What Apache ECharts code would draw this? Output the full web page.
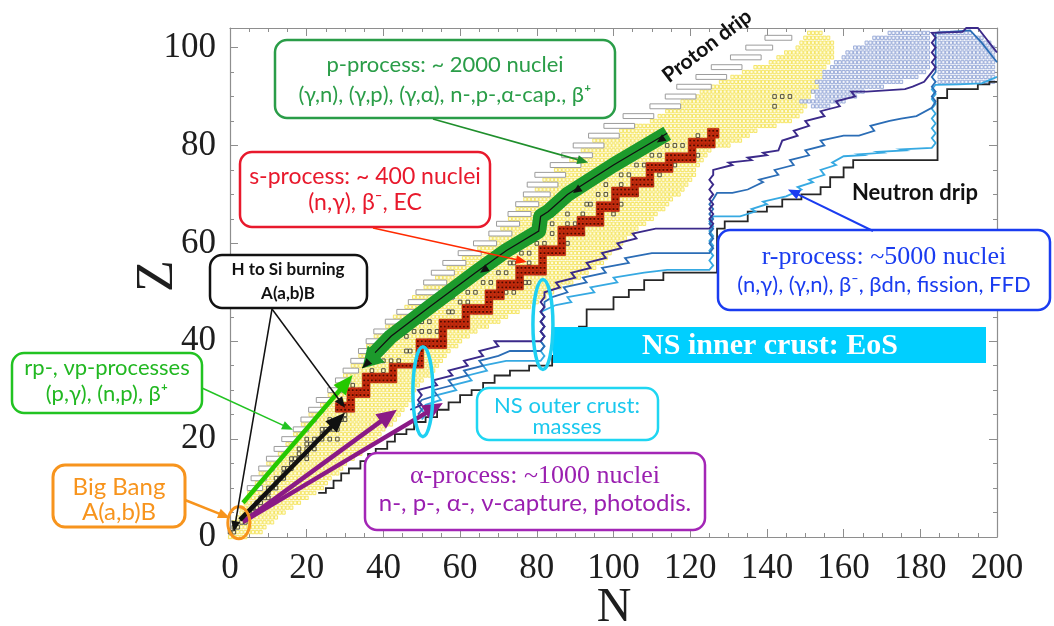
<!DOCTYPE html>
<html>
<head>
<meta charset="utf-8">
<title>Nucleosynthesis processes on the chart of nuclides</title>
<script src="https://cdn.jsdelivr.net/npm/echarts@6/dist/echarts.min.js"></script>
<style>
  html, body { margin: 0; padding: 0; background: #fff; }
  #chart { width: 1054px; height: 626px; }
</style>
</head>
<body>
<div id="chart"></div>
<script>
// known nuclei band, lowest / highest N for Z = 0..103
const yellowLo = [0,0,1,1,2,3,3,4,5,5, 6,7,8,8,9,10,11,13,14,15, 16,17,18,19,20,21,22,24,25,26,
  27,28,29,30,31,32,33,34,35,36, 37,38,39,41,42,43,45,46,47,48, 50,51,53,54,56,57,59,61,63,65,
  66,68,70,71,72,73,74,75,76,77, 79,80,81,82,84,85,87,89,90,92, 93,95,98,102,106,110,112,114,116,118,
  120,123,125,128,131,134,137,141,143,145, 148,149,150,151];
const yellowHi = [4,8,9,11,12,14,16,18,20,22, 24,25,26,28,29,30,32,34,35,37, 38,39,40,42,43,44,45,46,47,47,
  48,49,50,52,53,54,55,56,57,59, 60,62,64,67,70,72,75,78,80,82, 84,86,89,91,93,95,97,98,99,101,
  102,103,105,106,108,110,111,113,114,115, 117,118,119,120,121,121,122,123,124,125, 130,133,135,137,142,146,148,149,150,150,
  151,152,153,153,154,154,155,156,157,157, 157,157,156,154];

// fission region squares: [Z, Nlo, Nhi]
const fissionRows = [[88,152,156],[89,149,160],[90,153,163],[91,152,165],[92,154,170],[93,153,175],[94,155,179],
  [95,155,181],[96,157,182],[97,158,182],[98,160,182],[99,161,182],[100,163,182],[101,166,182],[102,168,182],[103,172,182],
  [93,185,199],[94,185,199],[95,185,199],[96,185,199],[97,185,199],[98,185,199],[99,185,199],[100,185,199],[101,185,198],[102,185,196],[103,185,193]];

// proton drip bars: [Nstart, Z, Nend]
const dripBars = [[5,10,8],[6,12,9],[8,14,11],[10,16,13],[12,18,15],[14,20,17],[17,22,20],[19,24,22],[21,26,24],[23,28,26],
  [26,30,29],[28,32,31],[30,34,33],[32,36,35],[34,38,37],[36,40,40],[38,42,42],[41,44,45],[44,46,48],[47,48,51],
  [49,50,54],[51,52,56],[53,54,58],[56,56,61],[60,58,65],[64,60,69],[68,62,73],[70,64,75],[73,66,78],[75,68,80],
  [77,70,83],[78,72,85],[80,74,87],[84,76,91],[87,78,94],[90,80,97],[94,82,101],[98,84,105],[103,86,110],[110,88,117],
  [114,90,121],[117,92,125],[122,94,129],[126,96,133],[131,98,138],[135,100,141],[140,102,146]];

// stable nuclei [N, Z]
const stableNuclei = [[0,1],[1,1],[1,2],[2,2],[3,3],[4,3],[5,4],[5,5],[6,5],[6,6],[7,6],[7,7],[8,7],[8,8],[9,8],[10,8],
  [10,9],[10,10],[11,10],[12,10],[12,11],[12,12],[13,12],[14,12],[14,13],[14,14],[15,14],[16,14],[16,15],[16,16],[17,16],
  [18,16],[20,16],[18,17],[20,17],[18,18],[20,18],[22,18],[20,19],[21,19],[22,19],[20,20],[22,20],[23,20],[24,20],[26,20],
  [28,20],[24,21],[24,22],[25,22],[26,22],[27,22],[28,22],[27,23],[28,23],[26,24],[28,24],[29,24],[30,24],[30,25],[28,26],
  [33,29],[34,30],[32,31],[36,32],[38,32],[37,34],[40,34],[40,36],[42,36],[44,36],[46,38],[47,38],[52,40],[46,41],[48,42],
  [50,42],[52,42],[54,42],[50,44],[52,44],[57,46],[58,46],[60,48],[62,48],[58,49],[62,50],[64,50],[74,50],[66,52],[68,52],
  [77,52],[70,54],[72,54],[73,56],[74,56],[78,56],[76,58],[78,58],[80,60],[82,60],[84,62],[84,64],[88,64],[90,64],[92,66],
  [88,66],[93,68],[94,68],[98,70],[96,70],[102,72],[98,72],[104,74],[102,74],[106,76],[108,76],[110,78],[112,78],[114,80],
  [116,80],[118,80],[122,82],[56,40],[60,44],[64,46],[68,48],[72,50],[78,52],[80,54],[84,58],[88,60],[92,62],[96,64],
  [100,66],[102,68],[106,70],[110,72],[112,74],[116,76],[122,78],[124,80],[142,90],[144,90],[146,90],[142,88]];

// s-process path blocks: [Zlo, Zhi, Nlo, Nhi]
const sProcessBlocks = [[26,27,28,32],[28,28,31,32],[29,30,31,36],[31,31,35,36],[32,33,35,43],[34,34,42,43],[35,35,42,50],
  [36,38,49,50],[39,40,49,56],[41,42,55,56],[43,44,55,62],[45,45,61,62],[46,47,61,68],[48,48,67,68],[49,50,67,71],
  [51,52,70,76],[53,53,75,76],[54,55,75,82],[56,57,81,82],[58,59,81,87],[60,61,86,87],[62,63,86,92],[64,65,91,97],
  [66,66,96,97],[67,68,96,101],[69,69,100,101],[70,71,100,106],[72,73,105,110],[74,74,109,110],[75,76,109,115],
  [77,78,114,121],[79,79,120,121],[80,81,120,126],[82,83,125,127]];

// r-process paths and neutron drip line, vertices [N, Z]
const rPathPurple = [[47,26],[50,27],[49,28],[50,29],[49,30],[54,31],[53,32],[58,33],[57,34],[62,35],[61,36],[66,37],[65,38],
  [70,39],[69,40],[81,40],[82,41],[81,42],[82,43],[81,44],[82,45],[81,46],[82,47],[81,48],[82,49],[82,50],[86,51],[85,52],
  [90,53],[89,54],[94,55],[93,56],[98,57],[97,58],[102,59],[101,60],[106,61],[105,62],[111,63],[125,63],[126,64],[125,65],
  [126,66],[125,67],[126,68],[125,69],[126,70],[125,71],[126,72],[125,73],[126,74],[126,75],[131,76],[130,76.5],[136,77],
  [135,77.5],[140,78],[139,78.5],[143,79],[144,81],[148,82],[147,83],[151,84],[150,85],[155,86],[154,87],[159,88],[158,89],
  [163,90],[162,91],[166,91],[176,91.5],[178,92],[181,93],[182,94],[183,95],[184,96],[183,97],[184,98],[183,99],[184,100],
  [183,101],[184,102],[183,103],[191,103.2],[192,104],[195,104],[197,102],[199,100],[200,99]];
const rPathBlue = [[49,25],[50,26],[49,27],[50,28],[54,29],[53,30],[58,31],[57,32],[62,33],[61,34],[66,35],[65,36],[70,37],
  [73,38],[81,38],[82,39],[81,40],[82,41],[81,42],[82,43],[81,44],[82,45],[81,46],[82,47],[82,48],[84,49],[88,50],[87,51],
  [93,52],[92,53],[98,54],[97,55],[104,56],[103,57],[110,58],[125,58],[126,59],[125,60],[126,61],[125,62],[126,63],[125,64],
  [126,65],[125,66],[126,67],[125,68],[126,69],[127,70.3],[131,70.3],[135,71],[139,72.5],[138,73],[143,74],[142,75],[147,76],
  [146,77],[151,78],[150,79],[155,80],[154,81],[160,82],[164,82],[168,83],[167,84],[172,85],[175,85.5],[179,86],[183,87.7],
  [184,89],[183,90],[184,91],[183,92],[184,93],[183,94],[184,95],[184,103],[193,103.5],[196,101],[198,99],[200,97]];
const rPathLight = [[50,24],[51,25],[50,26],[51,27],[55,28],[54,29],[59,30],[58,31],[63,32],[62,33],[67,34],[66,35],[72,36],
  [81,36],[82,37],[81,38],[82,39],[81,40],[82,41],[81,42],[82,43],[81,44],[82,45],[81,46],[85,47.4],[89,48],[88,49],[95,50],
  [94,51],[101,52],[100,53],[108,54],[114,54.6],[125,54.6],[126,55.5],[125,56.5],[126,57.5],[125,58.5],[126,59.5],[125,60.5],
  [126,61.5],[125,62.5],[126,63.5],[125,64.5],[126,65.5],[133,65.5],[137,66.5],[136,67],[140,68],[139,68.5],[145,69.6],
  [149,71],[148,71.5],[152,72.5],[151,73],[155,74],[154,75],[158,76],[157,76.5],[160,77.8],[165,78],[164,78.2],[170,78.5],
  [169,78.7],[176,79],[175,79.2],[183,79.5],[184,80.5],[183,81.5],[184,82.5],[183,83.5],[184,84.5],[183,85.5],[184,86.5],
  [183,87.5],[184,88.5],[183,89.5],[184,90.5],[183,91.5],[184,92.4],[190,92.5],[196,92.7],[200,94]];
const neutronDrip = [[23,9],[25,9],[25,10],[27,10],[27,11.5],[29,11.5],[29,13],[31,13],[31,14],[34,14],[34,15.5],[36,15.5],
  [36,17],[38,17],[38,18],[41,18],[41,19.5],[43,19.5],[43,21],[46,21],[46,22],[48,22],[48,23.5],[51,23.5],[51,24.5],[54,24.5],
  [54,26],[57,26],[57,27.5],[60,27.5],[60,29],[63,29],[63,30],[66,30],[66,31.5],[69,31.5],[69,33],[73,33],[73,34],[78,34],
  [78,35],[84,35],[84,37],[88,37],[88,40],[91,40],[91,43],[93,43],[93,46.5],[100,46.5],[100,49],[104,49],[104,50.5],
  [108,50.5],[108,52.5],[113,52.5],[113,54],[127,54],[127,63],[129,63],[129,64.5],[135,64.5],[135,66.5],[140,66.5],
  [140,67.5],[144,67.5],[144,69],[149,69],[149,70],[154,70],[154,71.5],[156.5,71.5],[156.5,73.5],[160,73.5],[160,75.5],
  [162.5,75.5],[162.5,77],[184.5,77],[184.5,89.7],[187,89.7],[187,91.5],[195,91.5],[195,92.5],[198,92.5],[198,93],[200,93]];

// p-process path (drawn towards lower Z) and its direction marks
const pProcessPath = [[114,82.5],[100,76],[88,70],[83,66.5],[81,65.5],[80.5,62.5],[72,58.5],[64,54],[52,47],[42,41],[37,37]];
const pProcessTip = [34.5,34.5];
const pProcessMarks = [[111.3,80.6],[89.4,70.3],[65.2,54]];

// process arrows, [from, to] in [N, Z]
const rpArrow = [[3.4,7],[32,33.1]];
const hSiArrow = [[2.6,3.5],[30,25.4]];
const alphaArrows = [[[3.4,3.1],[43.5,26]], [[3.4,3.1],[55.5,27.4]]];
// where the label arrows point to
const pLabelTip = [93.4,76.5];
const sLabelTip = [77.4,56.2];
const hSiLabelTips = [[1,1],[30,26.4]];
const rpLabelTip = [16.4,21.9];
const bigBangTip = [0,3.9];
const rLabelTip = [145.5,71];
const bigBangCentre = [2.3,2.9];
const outerCrustCentres = [[50.3,29.7],[81.6,43.4]];

const yellowCells = [];
yellowLo.forEach(function (lo, z) {
  for (let n = lo; n <= yellowHi[z]; n++) yellowCells.push([n, z]);
});
const fissionCells = [];
fissionRows.forEach(function (r) {
  for (let n = r[1]; n <= r[2]; n++) fissionCells.push([n, r[0]]);
});
const redCells = [];
sProcessBlocks.forEach(function (b) {
  for (let z = b[0]; z <= b[1]; z++)
    for (let n = b[2]; n <= b[3]; n++) redCells.push([n, z]);
});

function cellSeries(data, fill, stroke, fw, fh, lw) {
  return {
    type: 'custom', data: data, progressive: 0, animation: false,
    encode: { x: 0, y: 1 },
    renderItem: function (params, api) {
      const c = api.coord([api.value(0), api.value(1)]);
      const s = api.size([1, 1]);
      return {
        type: 'rect',
        shape: { x: c[0] - s[0] * fw / 2, y: c[1] - s[1] * fh / 2, width: s[0] * fw, height: s[1] * fh },
        style: { fill: fill, stroke: stroke, lineWidth: lw }
      };
    }
  };
}

function lineSeries(data, color, width) {
  return {
    type: 'line', data: data, showSymbol: false, symbol: 'none', animation: false,
    lineStyle: { color: color, width: width, join: 'miter' }
  };
}

function makeAxis(pos, max, showLabel) {
  return {
    type: 'value', position: pos, min: 0, max: max, interval: 20,
    splitLine: { show: false },
    axisLine: { show: true, onZero: false, lineStyle: { color: '#8e8e8e', width: 1.2 } },
    axisTick: { show: true, inside: true, length: 8, lineStyle: { color: '#8e8e8e' } },
    minorTick: { show: true, splitNumber: 4, length: 4, lineStyle: { color: '#8e8e8e' } },
    axisLabel: {
      show: showLabel, fontFamily: 'Liberation Serif', fontSize: 35, color: '#1e1e1e',
      margin: 14, showMaxLabel: max === 200
    }
  };
}

const chart = echarts.init(document.getElementById('chart'));
chart.setOption({
  animation: false,
  grid: { left: 230, right: 57, top: 28, bottom: 89 },
  xAxis: [makeAxis('bottom', 200, true), makeAxis('top', 200, false)],
  yAxis: [makeAxis('left', 104, true), makeAxis('right', 104, false)],
  series: [
    cellSeries(yellowCells, '#fffcdc', '#f4e35a', 0.8, 0.68, 0.9),
    cellSeries(fissionCells, '#f3f5fb', '#93a6d6', 0.8, 0.66, 0.9),
    {
      type: 'custom', data: dripBars, progressive: 0, animation: false,
      encode: { x: [0, 2], y: 1 },
      renderItem: function (params, api) {
        const a = api.coord([api.value(0) - 0.5, api.value(1) + 0.5]);
        const b = api.coord([api.value(2) + 0.5, api.value(1) - 0.5]);
        return {
          type: 'rect', shape: { x: a[0], y: a[1], width: b[0] - a[0], height: b[1] - a[1] },
          style: { fill: '#ffffff', stroke: '#9c9c9c', lineWidth: 1 }
        };
      }
    },
    cellSeries(stableNuclei, 'rgba(255,255,255,0)', '#444444', 0.92, 0.78, 0.9),
    {
      type: 'custom', data: redCells, progressive: 0, animation: false,
      encode: { x: 0, y: 1 },
      renderItem: function (params, api) {
        const c = api.coord([api.value(0), api.value(1)]);
        const s = api.size([1, 1]);
        return {
          type: 'group', children: [
            { type: 'rect', shape: { x: c[0] - s[0] / 2, y: c[1] - s[1] / 2, width: s[0], height: s[1] },
              style: { fill: '#d4300e', stroke: '#a81c06', lineWidth: 0.6 } },
            { type: 'rect', shape: { x: c[0] - 0.9, y: c[1] - 0.9, width: 1.8, height: 1.8 },
              style: { fill: '#4a0a00' } }
          ]
        };
      }
    },
    lineSeries(neutronDrip, '#262626', 1.8),
    lineSeries(rPathLight, '#36a9e2', 1.8),
    lineSeries(rPathBlue, '#2b6db6', 1.8),
    lineSeries(rPathPurple, '#3b2a8a', 1.9),
    {
      type: 'line', data: pProcessPath, showSymbol: false, symbol: 'none', animation: false,
      lineStyle: { color: '#1c9a2c', width: 15, cap: 'butt', join: 'round' }
    },
    lineSeries(pProcessPath.concat([pProcessTip]), '#111111', 1.3)
  ]
});

const toPx = function (p) { return chart.convertToPixel({ xAxisIndex: 0, yAxisIndex: 0 }, p); };

function head(tip, from, len, half, color) {
  const dx = tip[0] - from[0], dy = tip[1] - from[1];
  const L = Math.hypot(dx, dy), ux = dx / L, uy = dy / L;
  const bx = tip[0] - ux * len, by = tip[1] - uy * len;
  return { type: 'polygon', z: 100,
    shape: { points: [[tip[0], tip[1]], [bx - uy * half, by + ux * half], [bx + uy * half, by - ux * half]] },
    style: { fill: color } };
}
function arrow(p0, p1, color, width, len, half) {
  const dx = p1[0] - p0[0], dy = p1[1] - p0[1];
  const L = Math.hypot(dx, dy), ux = dx / L, uy = dy / L;
  return [
    { type: 'line', z: 100, shape: { x1: p0[0], y1: p0[1], x2: p1[0] - ux * (len - 1), y2: p1[1] - uy * (len - 1) },
      style: { stroke: color, lineWidth: width } },
    head(p1, p0, len, half, color)
  ];
}
function box(x, y, w, h, color, lw) {
  return { type: 'rect', z: 90, shape: { x: x, y: y, width: w, height: h, r: 12 },
    style: { fill: '#ffffff', stroke: color, lineWidth: lw } };
}
function text(str, x, y, color, font, rot) {
  return { type: 'text', z: 95, x: x, y: y, rotation: rot || 0,
    style: { text: str, fill: color, font: font, align: 'center', verticalAlign: 'middle',
      textAlign: 'center', textVerticalAlign: 'middle' } };
}
function ellipse(c, rx, ry, color, lw) {
  return { type: 'ellipse', z: 100, shape: { cx: c[0], cy: c[1], rx: rx, ry: ry },
    style: { fill: 'rgba(0,0,0,0)', stroke: color, lineWidth: lw } };
}

const sansFont = function (px) { return px + "px Lato, 'DejaVu Sans', sans-serif"; };
const boldFont = function (px) { return 'bold ' + px + "px Lato, 'DejaVu Sans', sans-serif"; };
const serifFont = "26px 'Liberation Serif', serif";
let g = [];

// thick process arrows
alphaArrows.forEach(function (a) { g = g.concat(arrow(toPx(a[0]), toPx(a[1]), '#8a1a86', 4.5, 20, 9)); });
g = g.concat(arrow(toPx(rpArrow[0]), toPx(rpArrow[1]), '#25c800', 4.5, 20, 8));
g = g.concat(arrow(toPx(hSiArrow[0]), toPx(hSiArrow[1]), '#111111', 4.5, 20, 8));

// p-process direction marks
g.push(head(toPx(pProcessTip), toPx([pProcessTip[0] + 3, pProcessTip[1] + 2.4]), 20, 12, '#1c9a2c'));
g.push(head(toPx(pProcessTip), toPx([pProcessTip[0] + 3, pProcessTip[1] + 2.4]), 10, 4, '#111111'));
pProcessMarks.forEach(function (m) {
  g.push(head(toPx(m), toPx([m[0] + 3, m[1] + 1.6]), 9, 4, '#111111'));
});

// ellipses
g.push(ellipse(toPx(bigBangCentre), 11, 16, '#f7941d', 3));
outerCrustCentres.forEach(function (c) { g.push(ellipse(toPx(c), 10, 45, '#1fd0f2', 3.5)); });

// NS inner crust bar
g.push({ type: 'rect', z: 90, shape: { x: 553, y: 327, width: 433, height: 36 }, style: { fill: '#00cfff' } });
g.push(text('NS inner crust: EoS', 770, 346, '#ffffff', "bold 30px 'Liberation Serif', serif"));

// labelled boxes with their leader arrows
g.push(box(275, 40, 340, 78, '#2a9d48', 2.5));
g.push(text('p-process: ~ 2000 nuclei', 445, 65, '#2a9d48', sansFont(22)));
g.push(text('(\u03b3,n), (\u03b3,p), (\u03b3,\u03b1), n-,p-,\u03b1-cap., \u03b2\u207a', 445, 95, '#2a9d48', sansFont(22)));
g = g.concat(arrow([433, 119], toPx(pLabelTip), '#1f8f2c', 1.6, 11, 4.5));

g.push(box(240, 152, 250, 75, '#e8192c', 2.5));
g.push(text('s-process: ~ 400 nuclei', 365, 177, '#e8192c', sansFont(23)));
g.push(text('(n,\u03b3), \u03b2\u207b, EC', 365, 203, '#e8192c', sansFont(23)));
g = g.concat(arrow([373, 228], toPx(sLabelTip), '#ff2a00', 1.6, 11, 4.5));

g.push(box(210, 255, 157, 53, '#111111', 2.5));
g.push(text('H to Si burning', 288, 270, '#111111', boldFont(17)));
g.push(text('A(a,b)B', 288, 294, '#111111', boldFont(17)));
hSiLabelTips.forEach(function (t) { g = g.concat(arrow([272, 309], toPx(t), '#111111', 1.5, 11, 4.5)); });

g.push(box(12, 353, 190, 60, '#22c322', 2.5));
g.push(text('rp-, \u03bdp-processes', 107, 368, '#22b822', sansFont(22)));
g.push(text('(p,\u03b3), (n,p), \u03b2\u207a', 107, 394, '#22b822', sansFont(22)));
g = g.concat(arrow([202, 388], toPx(rpLabelTip), '#22c322', 1.6, 11, 4.5));

g.push(box(53, 465, 132, 62, '#f7941d', 3));
g.push(text('Big Bang', 119, 487, '#f7941d', sansFont(24)));
g.push(text('A(a,b)B', 119, 512, '#f7941d', sansFont(24)));
g = g.concat(arrow([185, 500], toPx(bigBangTip), '#f7941d', 2.5, 12, 5));

g.push(box(477, 388, 181, 52, '#1fd6f2', 2.5));
g.push(text('NS outer crust:', 567, 406, '#1ac8ee', sansFont(22)));
g.push(text('masses', 567, 427, '#1ac8ee', sansFont(22)));

g.push(box(365, 453, 340, 77, '#a326b6', 2.5));
g.push(text('\u03b1-process: ~1000 nuclei', 535, 476, '#9a1fb0', serifFont));
g.push(text('n-, p-, \u03b1-, \u03bd-capture, photodis.', 535, 503, '#9a1fb0', sansFont(24)));

g.push(box(718, 230, 332, 80, '#1a3cf0', 2.5));
g.push(text('r-process: ~5000 nuclei', 884, 257, '#1a3cf0', serifFont));
g.push(text('(n,\u03b3), (\u03b3,n), \u03b2\u207b, \u03b2dn, fission, FFD', 884, 285, '#1a3cf0', sansFont(22)));
g = g.concat(arrow([873, 231], toPx(rLabelTip), '#1a3cf0', 2, 12, 5));

// drip line labels and axis names
g.push(text('Proton drip', 707, 46, '#111111', boldFont(21), 0.65));
g.push(text('Neutron drip', 915, 193, '#111111', boldFont(22)));
g.push(text('N', 614, 608, '#1e1e1e', "48px 'Liberation Serif', serif"));
g.push(text('Z', 158, 276, '#1e1e1e', "52px 'Liberation Serif', serif", Math.PI / 2));

chart.setOption({ graphic: { elements: g } });
</script>
</body>
</html>
